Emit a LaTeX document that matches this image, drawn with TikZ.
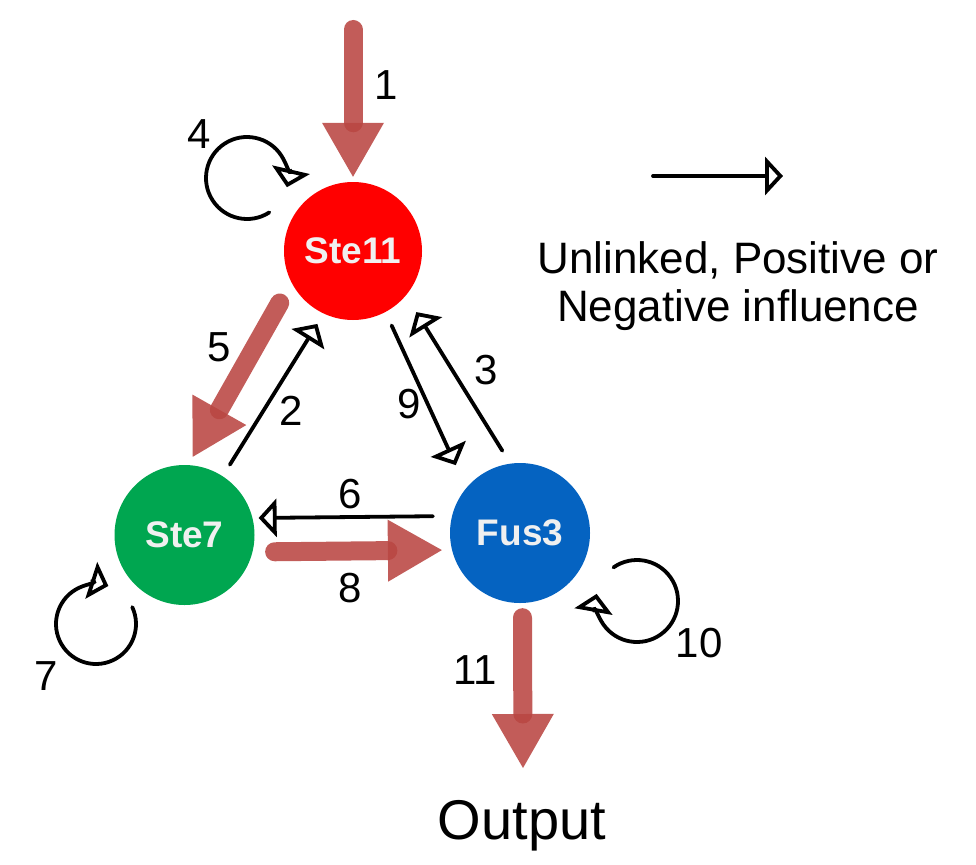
\documentclass[tikz,border=0pt]{standalone}
\usepackage{fontspec}
\setmainfont{Liberation Sans}
\usetikzlibrary{arrows.meta,calc}
\definecolor{ste11red}{RGB}{255,0,0}
\definecolor{ste7green}{RGB}{0,166,80}
\definecolor{fus3blue}{RGB}{5,99,193}
\definecolor{thickred}{RGB}{185,70,66}
\definecolor{nodetext}{RGB}{240,240,240}
\begin{document}
\begin{tikzpicture}[x=1pt,y=1pt,
 protein/.style={circle, minimum size=140pt, inner sep=0pt, text=nodetext, font=\fontsize{37}{40}\selectfont\bfseries},
 thinarrow/.style={line width=3.8pt, line cap=round, -{Triangle[open,length=18pt,width=38pt]}},
 thickarrow/.style={line width=19pt, line cap=round, draw=thickred, opacity=.88, -{Triangle[length=54pt,width=62pt,line width=0pt]}},
 lbl/.style={inner sep=0pt, font=\fontsize{42}{48}\selectfont},
 bigtext/.style={inner sep=0pt, anchor=base, font=\fontsize{#1}{#1}\selectfont},
]
\useasboundingbox (0,0) rectangle (976,-864);

% proteins
\node[protein, fill=ste11red, minimum size=138pt] (ste11) at (353,-251) {Ste11};
\node[protein, fill=ste7green] (ste7) at (184.5,-535) {Ste7};
\node[protein, fill=fus3blue] (fus3) at (520,-533) {Fus3};

% thick arrows
\coordinate (in1) at (353,-29.5);
\draw[thickarrow, shorten >=5pt] (in1) -- (ste11.north);
\draw[thickarrow, shorten <=23.6pt, shorten >=9.3pt] (ste11.207) -- (ste7.87);
\draw[thickarrow, shorten <=22pt, shorten >=10pt] (ste7.346.8) -- (fus3.194.9);
\coordinate (out11) at (523,-768);
\draw[thickarrow, shorten <=14.5pt] (fus3.272.5) -- (out11);

% thin arrows
\draw[thinarrow, shorten <=13.5pt, shorten >=12pt] (ste7.57) -- (ste11.245.5);
\draw[thinarrow, shorten <=14.7pt, shorten >=25pt] (ste11.298.5) -- (fus3.140);
\draw[thinarrow, shorten <=15pt, shorten >=19.5pt] (fus3.98.4) -- (ste11.320);
\draw[thinarrow, shorten <=19pt, shorten >=6pt] (fus3.166.8) -- (ste7.14.9);

% self loops
\draw[thinarrow] ($(ste11)+(-106,73)+(-57:41)$) arc[start angle=-57, end angle=-373, radius=41];
\draw[thinarrow] ($(ste7)+(-88.5,-89)+(25:40)$) arc[start angle=25, end angle=-288, radius=40];
\draw[thinarrow] ($(fus3)+(117,-68)+(125:41)$) arc[start angle=125, end angle=-190, radius=41];

% legend
\coordinate (legs) at (653,-176);
\coordinate (lege) at (783,-176);
\draw[thinarrow] (legs) -- (lege);
\node[bigtext=44] (leg1) at (738,-273) {Unlinked, Positive or};
\node[bigtext=44] (leg2) at (738,-321) {Negative influence};

% labels
\node[lbl] (n1) at (386,-85) {1};
\node[lbl] (n4) at (199,-134) {4};
\node[lbl] (n5) at (219,-347) {5};
\node[lbl] (n2) at (291,-411) {2};
\node[lbl] (n9) at (409,-404) {9};
\node[lbl] (n3) at (486,-370) {3};
\node[lbl] (n6) at (350,-494) {6};
\node[lbl] (n8) at (350,-588) {8};
\node[lbl] (n7) at (46,-676) {7};
\node[lbl] (n10) at (699,-643) {10};
\node[lbl] (n11) at (475,-670) {11};

\node[bigtext=56] (output) at (522,-839) {Output};
\end{tikzpicture}
\end{document}
